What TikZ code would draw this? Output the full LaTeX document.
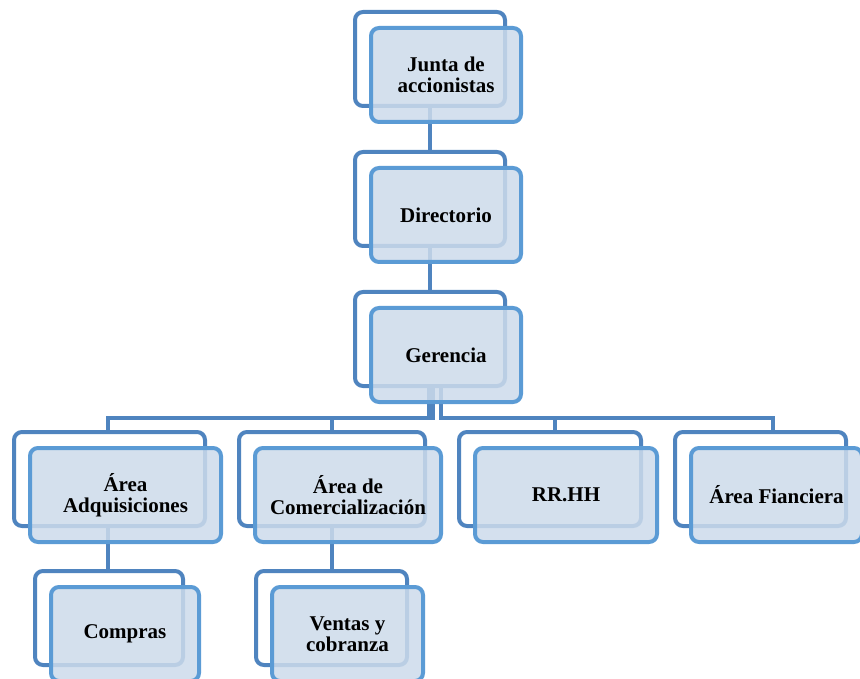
\documentclass[tikz,border=0pt]{standalone}
\usepackage{fontspec}
\setmainfont{Liberation Serif}
\usetikzlibrary{positioning}

\definecolor{backblue}{HTML}{4F84BF}
\definecolor{frontblue}{HTML}{5B9BD5}
\definecolor{fillblue}{HTML}{CDDBEB}

\tikzset{
  back/.style={draw=backblue, line width=4pt, rounded corners=8pt, fill=white,
    minimum height=94pt, inner sep=0pt},
  front/.style={draw=frontblue, line width=4pt, rounded corners=8pt, fill=fillblue,
    fill opacity=.85, text opacity=1, minimum height=94pt, inner sep=0pt,
    align=center, font=\bfseries\fontsize{21}{21}\selectfont},
  link/.style={draw=backblue, line width=4pt}
}

\begin{document}
\begin{tikzpicture}[x=1pt,y=-1pt,node distance=16pt,on grid]
   \clip (0,0) rectangle (860,679);

   % back frames
   \node[back,minimum width=150pt] (junta-b) at (430,59) {};
   \node[back,minimum width=150pt] (dir-b) at (430,199) {};
   \node[back,minimum width=150pt] (ger-b) at (430,339) {};
   \node[back,minimum width=191pt] (adq-b) at (109.5,479) {};
   \node[back,minimum width=186pt] (com-b) at (332,479) {};
   \node[back,minimum width=182pt] (rrhh-b) at (550,479) {};
   \node[back,minimum width=171pt] (fin-b) at (760.5,479) {};
   \node[back,minimum width=148pt] (compras-b) at (109,618) {};
   \node[back,minimum width=151pt] (ventas-b) at (331.5,618) {};
   \coordinate (bar) at (430,417.5);

   % connectors
   \draw[link] (junta-b.south) -- (dir-b.north);
   \draw[link] (dir-b.south) -- (ger-b.north);
   \draw[link] ([xshift=-1pt]ger-b.south) |- ([xshift=-1.5pt]adq-b.north |- bar) -- ([xshift=-1.5pt]adq-b.north);
   \draw[link] ([xshift=3pt]ger-b.south) |- (com-b.north |- bar) -- (com-b.north);
   \draw[link] ([xshift=11pt]ger-b.south) |- ([xshift=5pt]rrhh-b.north |- bar) -- ([xshift=5pt]rrhh-b.north);
   \draw[link] ([xshift=11pt]ger-b.south) |- ([xshift=12pt]fin-b.north |- bar) -- ([xshift=12pt]fin-b.north);
   \draw[link] ([xshift=-1.5pt]adq-b.south) -- ([xshift=-1.5pt]adq-b.south |- compras-b.north);
   \draw[link] (com-b.south) -- (com-b.south |- ventas-b.north);

   % front boxes
   \node[front,minimum width=150pt] (junta) [below right=16pt and 16pt of junta-b] {Junta de\\accionistas};
   \node[front,minimum width=150pt] (dir) [below right=16pt and 16pt of dir-b] {Directorio};
   \node[front,minimum width=150pt] (ger) [below right=16pt and 16pt of ger-b] {Gerencia};
   \node[front,minimum width=191pt] (adq) [below right=16pt and 16pt of adq-b] {Área\\Adquisiciones};
   \node[front,minimum width=186pt] (com) [below right=16pt and 16pt of com-b] {Área de\\Comercialización};
   \node[front,minimum width=182pt] (rrhh) [below right=16pt and 16pt of rrhh-b] {RR.HH};
   \node[front,minimum width=171pt] (fin) [below right=16pt and 16pt of fin-b] {Área Fianciera};
   \node[front,minimum width=148pt] (compras) [below right=16pt and 16pt of compras-b] {Compras};
   \node[front,minimum width=151pt] (ventas) [below right=16pt and 16pt of ventas-b] {Ventas y\\cobranza};
\end{tikzpicture}
\end{document}
